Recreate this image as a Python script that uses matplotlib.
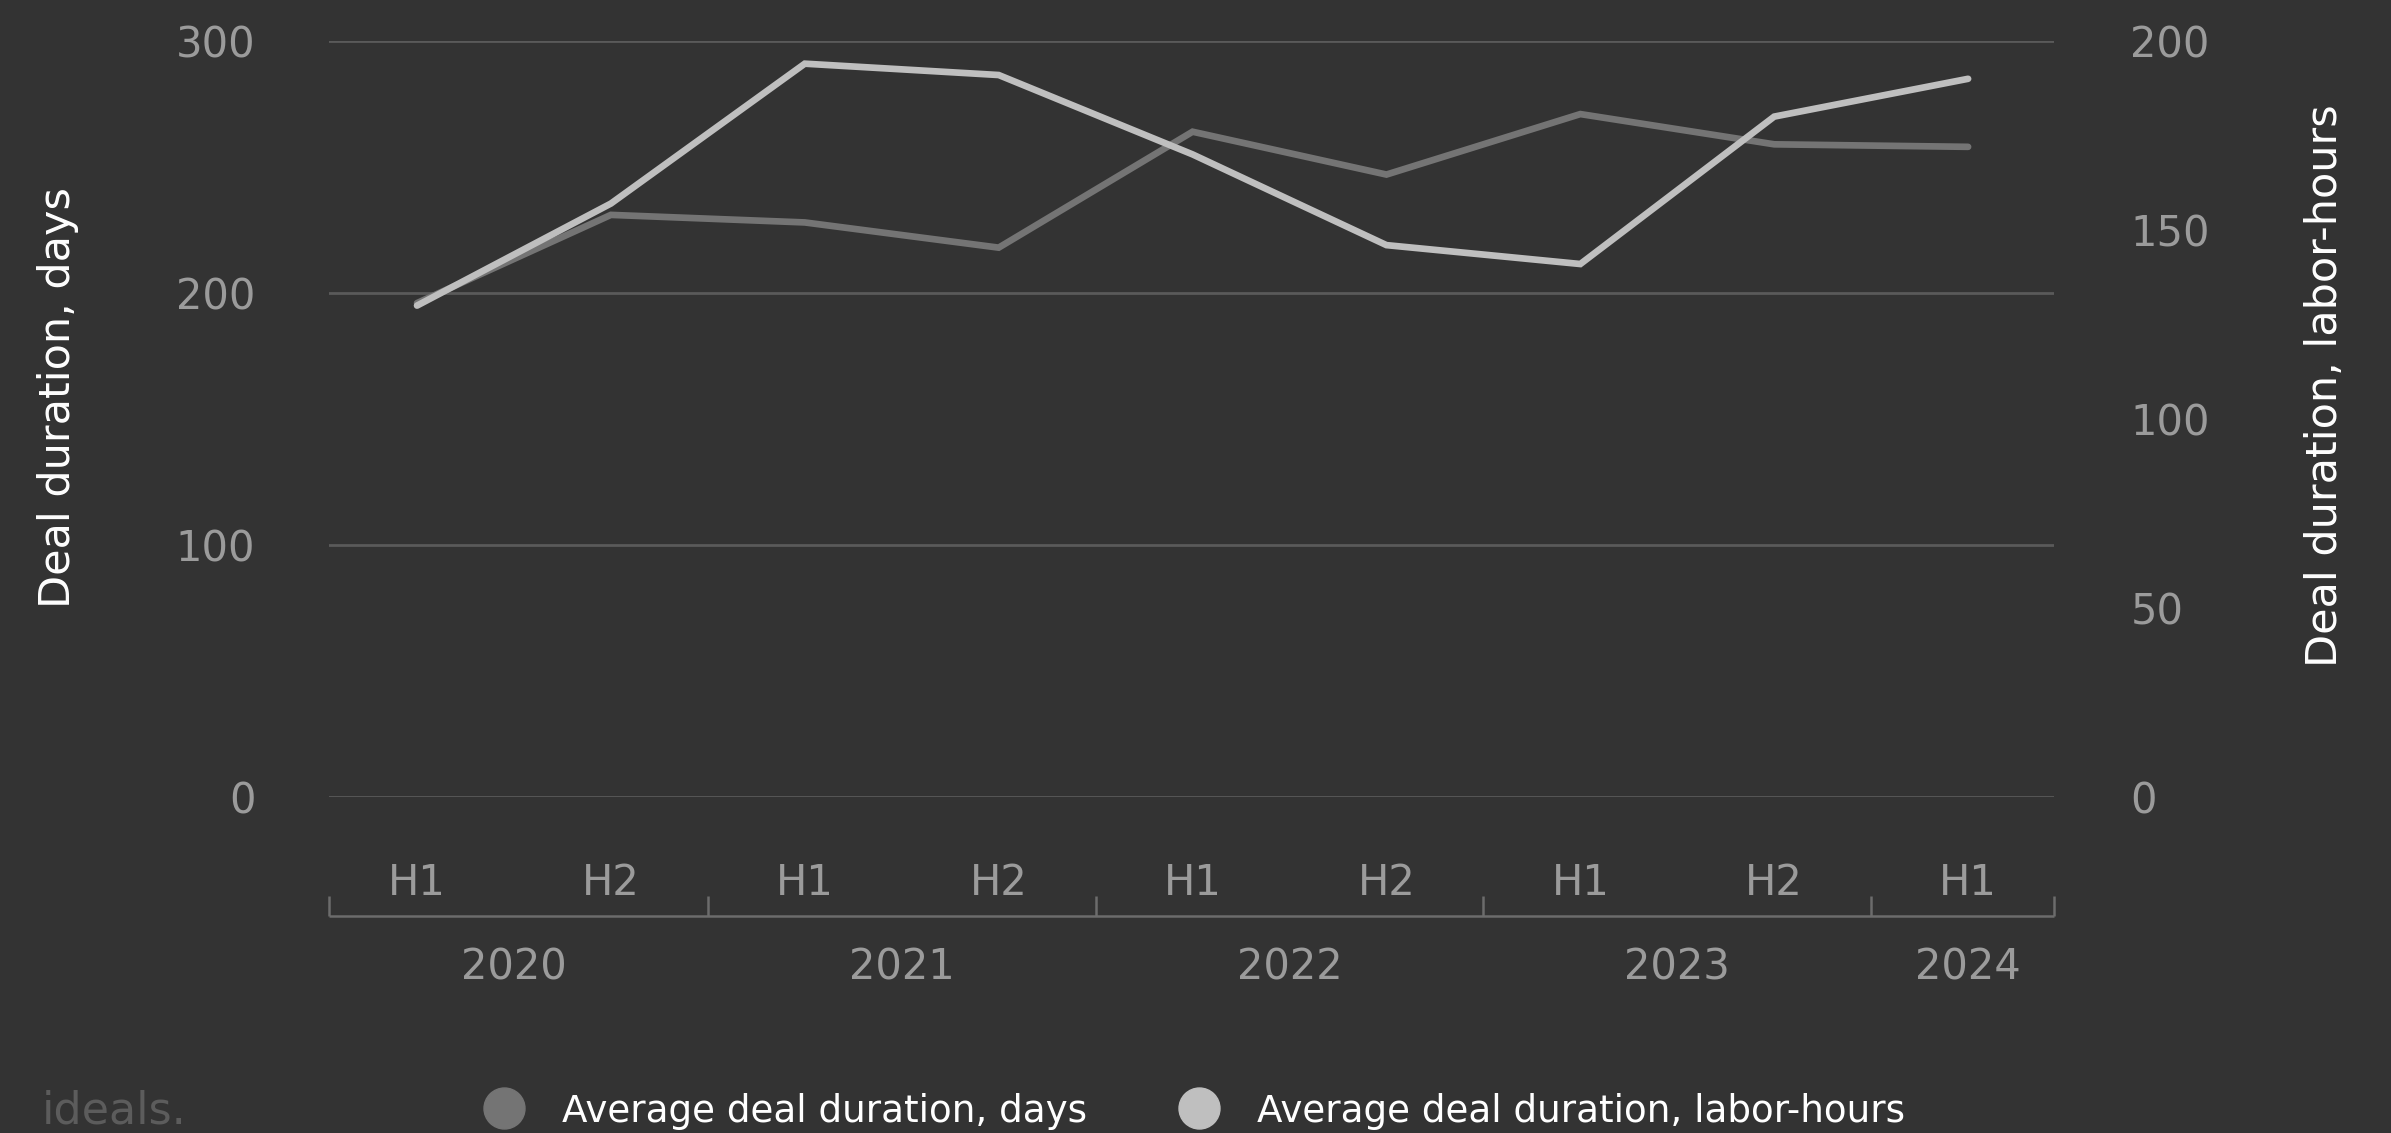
import matplotlib
matplotlib.use("Agg")
import matplotlib.pyplot as plt
from matplotlib.lines import Line2D
from matplotlib.transforms import blended_transform_factory

# Half-year periods and the year each belongs to
halves = ["H1", "H2", "H1", "H2", "H1", "H2", "H1", "H2", "H1"]
period_years = ["2020", "2020", "2021", "2021", "2022", "2022", "2023", "2023", "2024"]

# Series
days = [196, 231, 228, 218, 264, 247, 271, 259, 258]
labor_hours = [130, 157, 194, 191, 170, 146, 141, 180, 190]

left_ticks = [0, 100, 200, 300]
right_ticks = [0, 50, 100, 150, 200]

series_names = ["Average deal duration, days", "Average deal duration, labor-hours"]

BG = "#333333"
GRID = "#5a5a5a"
TICK = "#9b9b9b"
BRACKET = "#6c6c6c"
DARK = "#747474"
LIGHT = "#bfbfbf"
LOGO = "#5c5c5c"
FONT = "DejaVu Sans"

W, H = 2391, 1133
fig = plt.figure(figsize=(W / 100, H / 100), dpi=100, facecolor=BG)
plt.rcParams["font.family"] = [FONT]

ax = fig.add_axes([329 / W, 1 - 797 / H, (2054 - 329) / W, (797 - 41) / H])
ax.set_facecolor(BG)
x = list(range(len(halves)))
ax.set_xlim(-0.454, 8.443)
ax.set_ylim(0, 300)
ax.set_yticks(left_ticks)
ax.grid(axis="y", color=GRID, lw=2.0)
ax.set_axisbelow(True)
ax.set_xticks([])
for s in ax.spines.values():
    s.set_visible(False)
ax.tick_params(axis="y", length=0, pad=53, labelsize=30, labelcolor=TICK)

ax.plot(x, days, color=DARK, lw=4.8, solid_capstyle="round",
        solid_joinstyle="miter", clip_on=False, zorder=3)

ax2 = ax.twinx()
ax2.set_ylim(0, 200)
ax2.set_yticks(right_ticks)
for s in ax2.spines.values():
    s.set_visible(False)
ax2.tick_params(axis="y", length=0, pad=55, labelsize=30, labelcolor=TICK)
ax2.plot(x, labor_hours, color=LIGHT, lw=4.8, solid_capstyle="round",
         solid_joinstyle="miter", clip_on=False, zorder=4)

# Category axis: half-year labels, year brackets and year labels
tr = blended_transform_factory(ax.transData, fig.transFigure)
y_half = 1 - 895 / H
y_line = 1 - 916 / H
y_tick_top = 1 - 896 / H
y_year = 1 - 980 / H

for xi, lab in zip(x, halves):
    ax.text(xi, y_half, lab, transform=tr, ha="center", va="baseline",
            fontsize=30, color=TICK)

x0, x1 = ax.get_xlim()
ax.plot([x0, x1], [y_line, y_line], transform=tr, color=BRACKET, lw=1.8,
        clip_on=False, solid_capstyle="butt")
bounds = [x0]
groups = []
start = 0
for i in range(1, len(period_years) + 1):
    if i == len(period_years) or period_years[i] != period_years[start]:
        groups.append((period_years[start], start, i - 1))
        if i < len(period_years):
            bounds.append(i - 0.5)
        start = i
bounds.append(x1)
for b in bounds:
    ax.plot([b, b], [y_tick_top, y_line], transform=tr, color=BRACKET, lw=1.8,
            clip_on=False, solid_capstyle="butt")
for yr, a, b in groups:
    ax.text((a + b) / 2, y_year, yr, transform=tr, ha="center", va="baseline",
            fontsize=30, color=TICK)

# Axis titles
fig.text(58 / W, 1 - 398 / H, "Deal duration, days", rotation=90, ha="center",
         va="center", fontsize=31, color="white")
fig.text(2325 / W, 1 - 386 / H, "Deal duration, labor-hours", rotation=90,
         ha="center", va="center", fontsize=31, color="white")

# Legend
handles = [Line2D([], [], marker="o", ls="none", markersize=29.5, color=DARK),
           Line2D([], [], marker="o", ls="none", markersize=29.5, color=LIGHT)]
fig.legend(handles, series_names, loc="center",
           bbox_to_anchor=(1195 / W, 1 - 1111 / H), ncol=2, frameon=False,
           fontsize=26.8, handlelength=1.0, handletextpad=1.06,
           columnspacing=2.51, borderpad=0, borderaxespad=0, labelcolor="white")

# Brand mark
fig.text(42 / W, 1 - 1124 / H, "ideals.", fontsize=32, color=LOGO,
         ha="left", va="baseline")

fig.savefig("out.png", dpi=100, facecolor=BG)
